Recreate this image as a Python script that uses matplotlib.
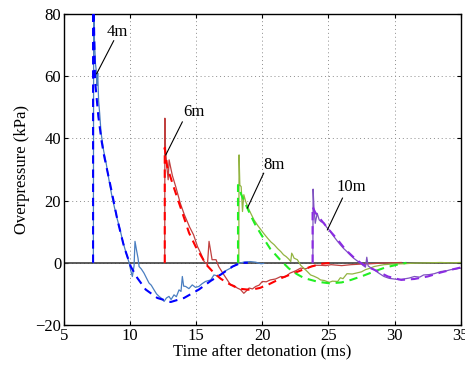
import matplotlib

matplotlib.use("Agg")

import matplotlib.pyplot as plt


t_4m_meas = [7.22, 7.25, 7.3, 7.38, 7.47, 7.5, 7.55, 7.62, 7.7, 7.8, 7.9, 8.0, 8.15, 8.4, 8.6,
             8.8, 9.0, 9.18, 9.4, 9.56, 9.75, 9.93, 10.05, 10.17, 10.3, 10.37, 10.48, 10.6,
             10.68, 10.85, 11.05, 11.25, 11.43, 11.6, 11.81, 12.0, 12.19, 12.4, 12.57, 12.75,
             12.94, 13.1, 13.32, 13.5, 13.7, 13.85, 13.95, 14.05, 14.2, 14.45, 14.7, 14.95,
             15.2, 15.45, 15.7, 16.1, 16.34, 16.6, 16.85, 17.2, 17.6, 18.0, 18.37, 18.7,
             19.1, 19.5, 19.9, 20.1]
p_4m_meas = [0, 95, 72, 64, 60.8, 57, 61, 52, 48, 42, 39, 36, 33, 26.7, 22,
             18.1, 14.5, 11.7, 7.8, 5.2, 2.4, 0, -2.5, -4.4, -1, 6.9, 4.2, 1.5,
             -1.2, -2, -3.3, -5, -6.5, -7.2, -8.7, -10, -10.8, -11.5, -12.4, -11.3,
             -10.8, -11.8, -10.3, -10.9, -8.7, -9.2, -4.4, -7.5, -7.6, -8.3, -7.1, -7.9,
             -7.6, -6.7, -6, -5.5, -3.9, -4.2, -3.8, -2.6, -1.7, -0.6, 0, 0.3,
             0.4, 0.2, -0.3, -0.2]

t_6m_meas = [12.62, 12.63, 12.68, 12.72, 12.8, 12.88, 12.95, 13.05, 13.2, 13.45, 13.8, 14.1,
             14.5, 14.8, 15.1, 15.35, 15.6, 15.85, 15.97, 16.1, 16.2, 16.5, 16.7, 17.1,
             17.35, 17.6, 17.85, 18.1, 18.35, 18.6, 18.8, 19.0, 19.25, 19.5, 19.75, 20.0,
             20.3, 20.6, 21.0, 21.4, 21.7, 22.1, 22.5, 22.9, 23.3, 23.7, 24.0, 24.4, 24.8,
             25.2, 26.0, 26.7, 27.5, 28.2, 29.0, 29.7, 30.5]
p_6m_meas = [0, 46.5, 36, 34.2, 30, 26.7, 33.1, 31, 28, 24.5, 19.1, 15.5,
             11.5, 9, 5.2, 3, 0.4, -0.6, 6.9, 3.6, 1, 1, -1.2, -3.9,
             -5.5, -7.1, -7.3, -8.1, -8.6, -9.8, -9, -8.1, -8.4, -7.6, -7.2, -6,
             -6.1, -5.5, -5.2, -4.4, -4.6, -3.3, -2.6, -1.7, -1.9, -1.2, -0.8, -0.8, -0.9,
             -0.6, -0.9, -0.6, -0.4, -0.3, -0.1, 0, 0.1]

t_8m_meas = [18.22, 18.24, 18.3, 18.4, 18.5, 18.6, 18.74, 19.0, 19.37, 19.65, 19.9, 20.15,
             20.4, 20.65, 20.9, 21.15, 21.4, 21.6, 21.8, 22.0, 22.15, 22.22, 22.3, 22.4,
             22.65, 22.9, 23.15, 23.4, 23.65, 23.9, 24.2, 24.4, 24.7, 25.05, 25.3, 25.7,
             25.9, 26.1, 26.4, 26.8, 27.2, 27.5, 27.8, 28.1, 28.45, 28.8, 29.2, 29.8, 30.7,
             31.5, 32.5, 33.5, 34.2, 35.0]
p_8m_meas = [0, 34.7, 25, 24.5, 16.5, 21.9, 19.7, 17, 13.8, 12, 10.6, 9.2,
             7.9, 6.7, 5.8, 4.6, 3.6, 2.6, 2.0, 1.2, 0.4, 3.1, 2.5, 1.5,
             1, -0.8, -1.8, -2.8, -3.9, -4.3, -4.9, -5.5, -5.7, -6.3, -5.9, -6,
             -4.8, -5.1, -3.5, -3.6, -3.2, -2.9, -2.2, -1.8, -1.2, -0.9, -0.6, -0.4, -0.3,
             -0.1, 0, 0.1, 0, 0.1]

t_10m_meas = [23.82, 23.84, 23.9, 24.0, 24.15, 24.3, 24.45, 24.67, 24.85, 25.05, 25.2, 25.4,
              25.65, 25.9, 26.15, 26.4, 26.65, 26.9, 27.15, 27.4, 27.6, 27.8, 27.9, 28.0,
              28.2, 28.45, 28.8, 29.2, 29.6, 29.96, 30.3, 30.7, 31.1, 31.5, 31.9, 32.2,
              32.6, 33.0, 33.5, 33.9, 34.25, 34.6, 35.0]
p_10m_meas = [0, 23.7, 18, 12.7, 15.9, 13.8, 13.2, 12.8, 11.5, 10.6, 9.7, 8.5,
              7.1, 5.8, 4.6, 3.6, 2.5, 1.5, 0.7, 0, -0.8, -1.4, 1.8, -1,
              -1.6, -2.2, -3.3, -4.4, -5, -5.2, -5.4, -5.2, -4.9, -4.4, -4.6, -3.9,
              -3.8, -3.5, -2.8, -2.6, -2.2, -2.0, -1.7]

# Predicted (model) curves, drawn dashed.
t_4m_model = [7.2, 7.2, 7.35, 7.6, 7.85, 8.03, 8.53, 9.04, 9.54, 10.05, 10.55, 11.18, 12.06,
              13.07, 14.08, 15.2, 16.1, 16.85, 17.74, 18.4, 18.9]
p_4m_model = [0, 92, 58.6, 47, 39, 34.5, 24.5, 13.8, 5.2, -1.2, -4.9, -8.6, -11.3,
              -12.6, -11.3, -8.6, -5.8, -3.8, -1.2, 0, 0]

t_6m_model = [12.62, 12.62, 12.8, 13.2, 13.6, 13.96, 14.46, 14.96, 15.47, 15.72, 16.35, 16.85,
              17.36, 18.2, 19.1, 19.8, 20.4, 21.5, 22.7, 23.7, 24.5, 25.2]
p_6m_model = [0, 37, 31, 25.6, 20.5, 16, 9.6, 5.2, 1.5, -0.4, -3.3, -5.1,
              -6.5, -8.3, -8.7, -8.1, -7.1, -4.8, -2.8, -1.2, -0.3, 0]

t_8m_model = [18.16, 18.16, 18.4, 18.7, 19.1, 19.5, 20.0, 20.6, 21.3, 22.0, 22.6, 23.15, 24.2,
              25.1, 26.0, 26.7, 27.6, 28.45, 29.3, 30.2, 30.9]
p_8m_model = [0, 25, 22, 19.2, 15.4, 12, 8.5, 4.5, 1.2, -1.8, -3.6, -4.9, -6.1,
              -6.6, -6.3, -5.5, -4.2, -2.8, -1.5, -0.6, 0]

t_10m_model = [23.8, 23.8, 24.0, 24.4, 25.05, 25.7, 26.3, 26.9, 27.4, 27.9, 28.45, 29.5, 30.5,
               31.5, 32.5, 33.5, 34.5, 35.0]
p_10m_model = [0, 18, 16.2, 14, 10.6, 7.4, 4.2, 1.8, 0.1, -1.2, -2.2, -4.4, -5.5,
               -5.2, -4.4, -3.1, -2, -1.5]

distances = ["4m", "6m", "8m", "10m"]
# label text position and the point on the curve its leader line points to
label_xy = [(9.06, 74.3), (14.83, 48.6), (20.9, 31.5), (26.7, 24.5)]
leader_start = [(8.76, 71.4), (13.95, 45.3), (20.1, 28.8), (26.06, 20.8)]
leader_end = [(7.47, 60.8), (12.7, 34.7), (18.87, 17.6), (24.92, 10.6)]

x_ticks = [5, 10, 15, 20, 25, 30, 35]
y_ticks = [-20, 0, 20, 40, 60, 80]

meas_colors = ["#4a7ec0", "#c0403f", "#93b442", "#7f52c0"]
model_colors = ["#0000ff", "#ff0000", "#22ee22", "#8a2be2"]

plt.rcParams["font.family"] = ["Liberation Serif", "DejaVu Serif"]
plt.rcParams["font.size"] = 12

fig = plt.figure(figsize=(4.65, 3.67), dpi=100)
ax = fig.add_axes([0.1376, 0.1144, 0.8531, 0.8474])

measured = [(t_4m_meas, p_4m_meas), (t_6m_meas, p_6m_meas),
            (t_8m_meas, p_8m_meas), (t_10m_meas, p_10m_meas)]
models = [(t_4m_model, p_4m_model), (t_6m_model, p_6m_model),
          (t_8m_model, p_8m_model), (t_10m_model, p_10m_model)]

ax.axhline(0, color="0.25", lw=1.2, zorder=1)

for (t, p), color in zip(measured, meas_colors):
    ax.plot(t, p, color=color, lw=0.9, zorder=2)

for (t, p), color in zip(models, model_colors):
    ax.plot(t, p, color=color, lw=1.5, linestyle=(0, (4, 2.8)), zorder=3)

for name, (tx, ty), (x0, y0), (x1, y1) in zip(distances, label_xy, leader_start, leader_end):
    ax.plot([x0, x1], [y0, y1], color="k", lw=0.8, zorder=4)
    ax.text(tx, ty, name, ha="center", va="center", zorder=5)

ax.set_xlim(5, 35)
ax.set_ylim(-20, 80)
ax.set_xticks(x_ticks)
ax.set_yticks(y_ticks)
ax.grid(True, linestyle=(0, (1, 3)), color="0.55", lw=0.7)
ax.set_axisbelow(True)
ax.tick_params(direction="in", top=True, right=True, length=3, width=0.8, pad=2)
for spine in ax.spines.values():
    spine.set_linewidth(1.0)

ax.set_xlabel("Time after detonation (ms)", labelpad=0)
ax.set_ylabel("Overpressure (kPa)", labelpad=4)

fig.savefig("out.png", dpi=100)
plt.close(fig)
